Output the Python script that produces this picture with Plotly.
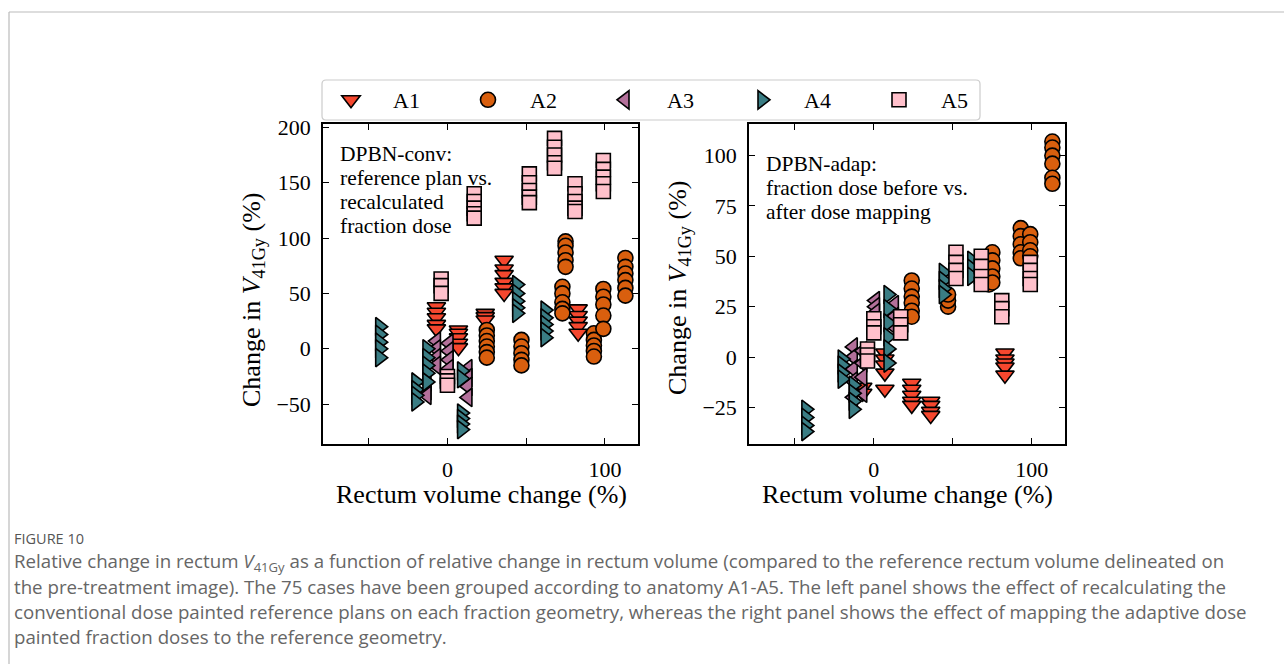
import plotly.graph_objects as go

# ---------------- data ----------------
groups = ["A1", "A2", "A3", "A4", "A5"]

# A1 : triangle-down
a1_x_left = [-7]*5 + [7]*5 + [24]*3 + [36]*6 + [83]*5
a1_y_left = [38, 33, 28, 22, 18, 17, 14, 10, 5, 1, 32, 29, 26,
             80, 72, 67, 60, 55, 50, 36, 30, 25, 20, 14]
a1_x_right = [-7]*2 + [7]*5 + [24]*5 + [36]*4 + [83]*5
a1_y_right = [-15, -18, 2, -1, -4, -8, -16, -13, -16, -19, -22, -24,
              -22, -24, -27, -29, 2, -1, -3, -5, -9]

# A2 : circle
a2_x_left = [25]*6 + [47]*5 + [73]*5 + [75]*5 + [93]*5 + [99]*5 + [113]*6
a2_y_left = [17, 12, 7, 2, -3, -8,
             8, 2, -4, -10, -15,
             56, 50, 42, 36, 32,
             97, 93, 87, 80, 74,
             14, 8, 3, -2, -7,
             54, 47, 40, 30, 18,
             82, 74, 68, 62, 55, 48]
a2_x_right = [24]*6 + [47]*3 + [73]*3 + [75]*5 + [93]*5 + [99]*4 + [113]*6
a2_y_right = [38, 34, 30, 27, 23, 20,
              25, 28, 31,
              36, 40, 44,
              52, 48, 44, 40, 37,
              64, 60, 56, 52, 49,
              61, 57, 53, 50,
              107, 104, 100, 96, 89, 86]

# A3 : triangle-left
a3_x_left = [-13]*3 + [-7]*4 + [1]*4 + [13]*4
a3_y_left = [-30, -38, -42,
             7, 0, -8, -15,
             5, -2, -10, -18,
             -18, -26, -34, -44]
a3_x_right = [-13]*5 + [-7]*4 + [1]*3 + [13]*3
a3_y_right = [5, 0, -6, -12, -20,
              3, -3, -10, -18,
              28, 25, 22,
              26, 20, 15]

# A4 : triangle-right
a4_x_left = [-43]*5 + [-20]*4 + [-13]*5 + [9]*6 + [44]*5 + [62]*5
a4_y_left = [20, 13, 6, 0, -8,
             -30, -37, -42, -48,
             0, -8, -15, -22, -30,
             -20, -27, -58, -63, -68, -73,
             58, 50, 43, 37, 32,
             35, 28, 22, 16, 10]
a4_x_right = [-43]*4 + [-20]*4 + [-13]*4 + [9]*6 + [44]*4 + [62]*3
a4_y_right = [-26, -30, -34, -37,
              -1, -4, -8, -11,
              -14, -18, -22, -26,
              31, 24, 17, 10, 4, -3,
              42, 38, 34, 31,
              48, 44, 40]

# A5 : square
a5_x_left = [-4]*3 + [0]*3 + [17]*5 + [52]*5 + [68]*5 + [81]*5 + [99]*5
a5_y_left = [63, 57, 50,
             -25, -29, -33,
             140, 133, 127, 122, 118,
             158, 150, 143, 137, 132,
             190, 182, 175, 168, 163,
             149, 140, 133, 127, 124,
             170, 162, 155, 149, 142]
a5_x_right = [-4]*3 + [0]*3 + [17]*3 + [52]*4 + [68]*4 + [81]*3 + [99]*4
a5_y_right = [4, 1, -2,
              19, 15, 12,
              20, 16, 12,
              52, 47, 43, 39,
              50, 45, 40, 36,
              28, 24, 20,
              47, 43, 39, 36]

x_tickvals = [0, 100]
x_minor_ticks = [-50, 50]
left_y_ticks = [-50, 0, 50, 100, 150, 200]
right_y_ticks = [-25, 0, 25, 50, 75, 100]

left_text = ["DPBN-conv:", "reference plan vs.", "recalculated", "fraction dose"]
right_text = ["DPBN-adap:", "fraction dose before vs.", "after dose mapping"]

# ---------------- styling ----------------
colors = {"A1": "#f5472e", "A2": "#d95f0e", "A3": "#b3709a",
          "A4": "#3a7d84", "A5": "#ffc0cb"}
symbols = {"A1": "triangle-down", "A2": "circle", "A3": "triangle-left",
           "A4": "triangle-right", "A5": "square"}
sizes = {"A1": 16, "A2": 15, "A3": 16, "A4": 16, "A5": 14}

left_data = {"A1": (a1_x_left, a1_y_left), "A2": (a2_x_left, a2_y_left),
             "A3": (a3_x_left, a3_y_left), "A4": (a4_x_left, a4_y_left),
             "A5": (a5_x_left, a5_y_left)}
right_data = {"A1": (a1_x_right, a1_y_right), "A2": (a2_x_right, a2_y_right),
              "A3": (a3_x_right, a3_y_right), "A4": (a4_x_right, a4_y_right),
              "A5": (a5_x_right, a5_y_right)}

W, H = 1284, 664
SERIF = "Liberation Serif"
NB = "\u00a0"

fig = go.Figure()
for g in groups:
    x, y = left_data[g]
    fig.add_trace(go.Scatter(
        x=x, y=y, mode="markers", name=NB * 4 + g, legendgroup=g, showlegend=True,
        marker=dict(symbol=symbols[g], size=sizes[g], color=colors[g],
                    line=dict(color="black", width=1.6)),
        xaxis="x", yaxis="y"))
for g in groups:
    x, y = right_data[g]
    fig.add_trace(go.Scatter(
        x=x, y=y, mode="markers", name=g, legendgroup=g, showlegend=False,
        marker=dict(symbol=symbols[g], size=sizes[g], color=colors[g],
                    line=dict(color="black", width=1.6)),
        xaxis="x2", yaxis="y2"))


def px_x(p):
    return p / W


def px_y(p):
    return 1 - p / H


ax_common = dict(showline=True, linecolor="black", linewidth=1.5,
                 mirror="ticks", ticks="inside", ticklen=6, tickwidth=1.3,
                 tickcolor="black", showgrid=False, zeroline=False,
                 automargin=False,
                 tickfont=dict(family=SERIF, size=22, color="black"))
x_minor = dict(tickvals=x_minor_ticks, ticks="inside", ticklen=6,
               tickwidth=1.3, tickcolor="black", showgrid=False)

fig.update_layout(
    width=W, height=H, margin=dict(l=0, r=0, t=0, b=0, pad=0, autoexpand=False),
    paper_bgcolor="white", plot_bgcolor="white",
    xaxis=dict(domain=[px_x(323), px_x(638)], range=[-79, 121],
               tickvals=x_tickvals, minor=x_minor, anchor="y",
               ticklabelstandoff=5, **ax_common),
    yaxis=dict(domain=[px_y(444), px_y(124)], range=[-86, 203],
               tickvals=left_y_ticks, anchor="x",
               ticklabelstandoff=6, **ax_common),
    xaxis2=dict(domain=[px_x(749), px_x(1065)], range=[-79, 121],
                tickvals=x_tickvals, minor=x_minor, anchor="y2",
                ticklabelstandoff=5, **ax_common),
    yaxis2=dict(domain=[px_y(444), px_y(124)], range=[-43.2, 115.7],
                tickvals=right_y_ticks, anchor="x2",
                ticklabelstandoff=6, **ax_common),
    legend=dict(orientation="h", x=px_x(331), y=px_y(100),
                xanchor="left", yanchor="middle",
                entrywidth=92, entrywidthmode="pixels",
                font=dict(family=SERIF, size=22, color="black"),
                bgcolor="rgba(0,0,0,0)", borderwidth=0,
                itemsizing="trace"),
    showlegend=True,
)

# legend frame (rounded)
x0, x1, y0, y1, r = px_x(322), px_x(980), px_y(120), px_y(80), 4
rx, ry = r / W, r / H
fig.add_shape(type="path", xref="paper", yref="paper",
              path=(f"M {x0+rx},{y1} L {x1-rx},{y1} Q {x1},{y1} {x1},{y1-ry} "
                    f"L {x1},{y0+ry} Q {x1},{y0} {x1-rx},{y0} "
                    f"L {x0+rx},{y0} Q {x0},{y0} {x0},{y0+ry} "
                    f"L {x0},{y1-ry} Q {x0},{y1} {x0+rx},{y1} Z"),
              line=dict(color="#cccccc", width=1.2), fillcolor="rgba(255,255,255,0.8)",
              layer="below")

# page frame lines
fig.add_shape(type="line", xref="paper", yref="paper",
              x0=px_x(9), x1=1, y0=px_y(12), y1=px_y(12),
              line=dict(color="#bbbbbb", width=1.2))
fig.add_shape(type="line", xref="paper", yref="paper",
              x0=px_x(9), x1=px_x(9), y0=px_y(12), y1=0,
              line=dict(color="#bbbbbb", width=1.2))

serif_font = dict(family=SERIF, size=26, color="black")

# axis titles
for xc in (481, 907):
    fig.add_annotation(xref="paper", yref="paper", x=px_x(xc), y=px_y(494),
                       text="Rectum volume change (%)", showarrow=False,
                       font=serif_font, xanchor="center", yanchor="middle")
fig.add_annotation(xref="paper", yref="paper", x=px_x(253), y=px_y(300),
                   text="Change in <i>V</i><sub>41Gy</sub> (%)", showarrow=False,
                   textangle=-90, font=serif_font, xanchor="center", yanchor="middle")
fig.add_annotation(xref="paper", yref="paper", x=px_x(679), y=px_y(288),
                   text="Change in <i>V</i><sub>41Gy</sub> (%)", showarrow=False,
                   textangle=-90, font=serif_font, xanchor="center", yanchor="middle")


# panel texts: one annotation each; base font sets line spacing,
# inner spans carry the visible size
def tight(lines, size):
    return "<br>".join(f"<span style='font-size:{size}px'>{t}</span>" for t in lines)


fig.add_annotation(xref="paper", yref="paper", x=px_x(338), y=px_y(140),
                   text=tight(left_text, 21.5), showarrow=False, align="left",
                   xanchor="left", yanchor="top",
                   font=dict(family=SERIF, size=18.5, color="black"))
fig.add_annotation(xref="paper", yref="paper", x=px_x(764), y=px_y(150),
                   text=tight(right_text, 21.5), showarrow=False, align="left",
                   xanchor="left", yanchor="top",
                   font=dict(family=SERIF, size=18.5, color="black"))

# caption
fig.add_annotation(xref="paper", yref="paper", x=px_x(12), y=px_y(538),
                   text="FIGURE 10", showarrow=False, xanchor="left",
                   yanchor="middle", font=dict(family="Open Sans", size=14.5, color="#555555"))
caption_lines = [
    "Relative change in rectum <i>V</i><sub>41Gy</sub> as a function of relative change in rectum volume (compared to the reference rectum volume delineated on",
    "the pre-treatment image). The 75 cases have been grouped according to anatomy A1-A5. The left panel shows the effect of recalculating the",
    "conventional dose painted reference plans on each fraction geometry, whereas the right panel shows the effect of mapping the adaptive dose",
    "painted fraction doses to the reference geometry.",
]
for i, line in enumerate(caption_lines):
    fig.add_annotation(xref="paper", yref="paper", x=px_x(12), y=px_y(562 + 24.7 * i),
                       text=line, showarrow=False, xanchor="left", yanchor="middle",
                       font=dict(family="Open Sans", size=18.7, color="#666666"))

fig.write_html("out.html")
